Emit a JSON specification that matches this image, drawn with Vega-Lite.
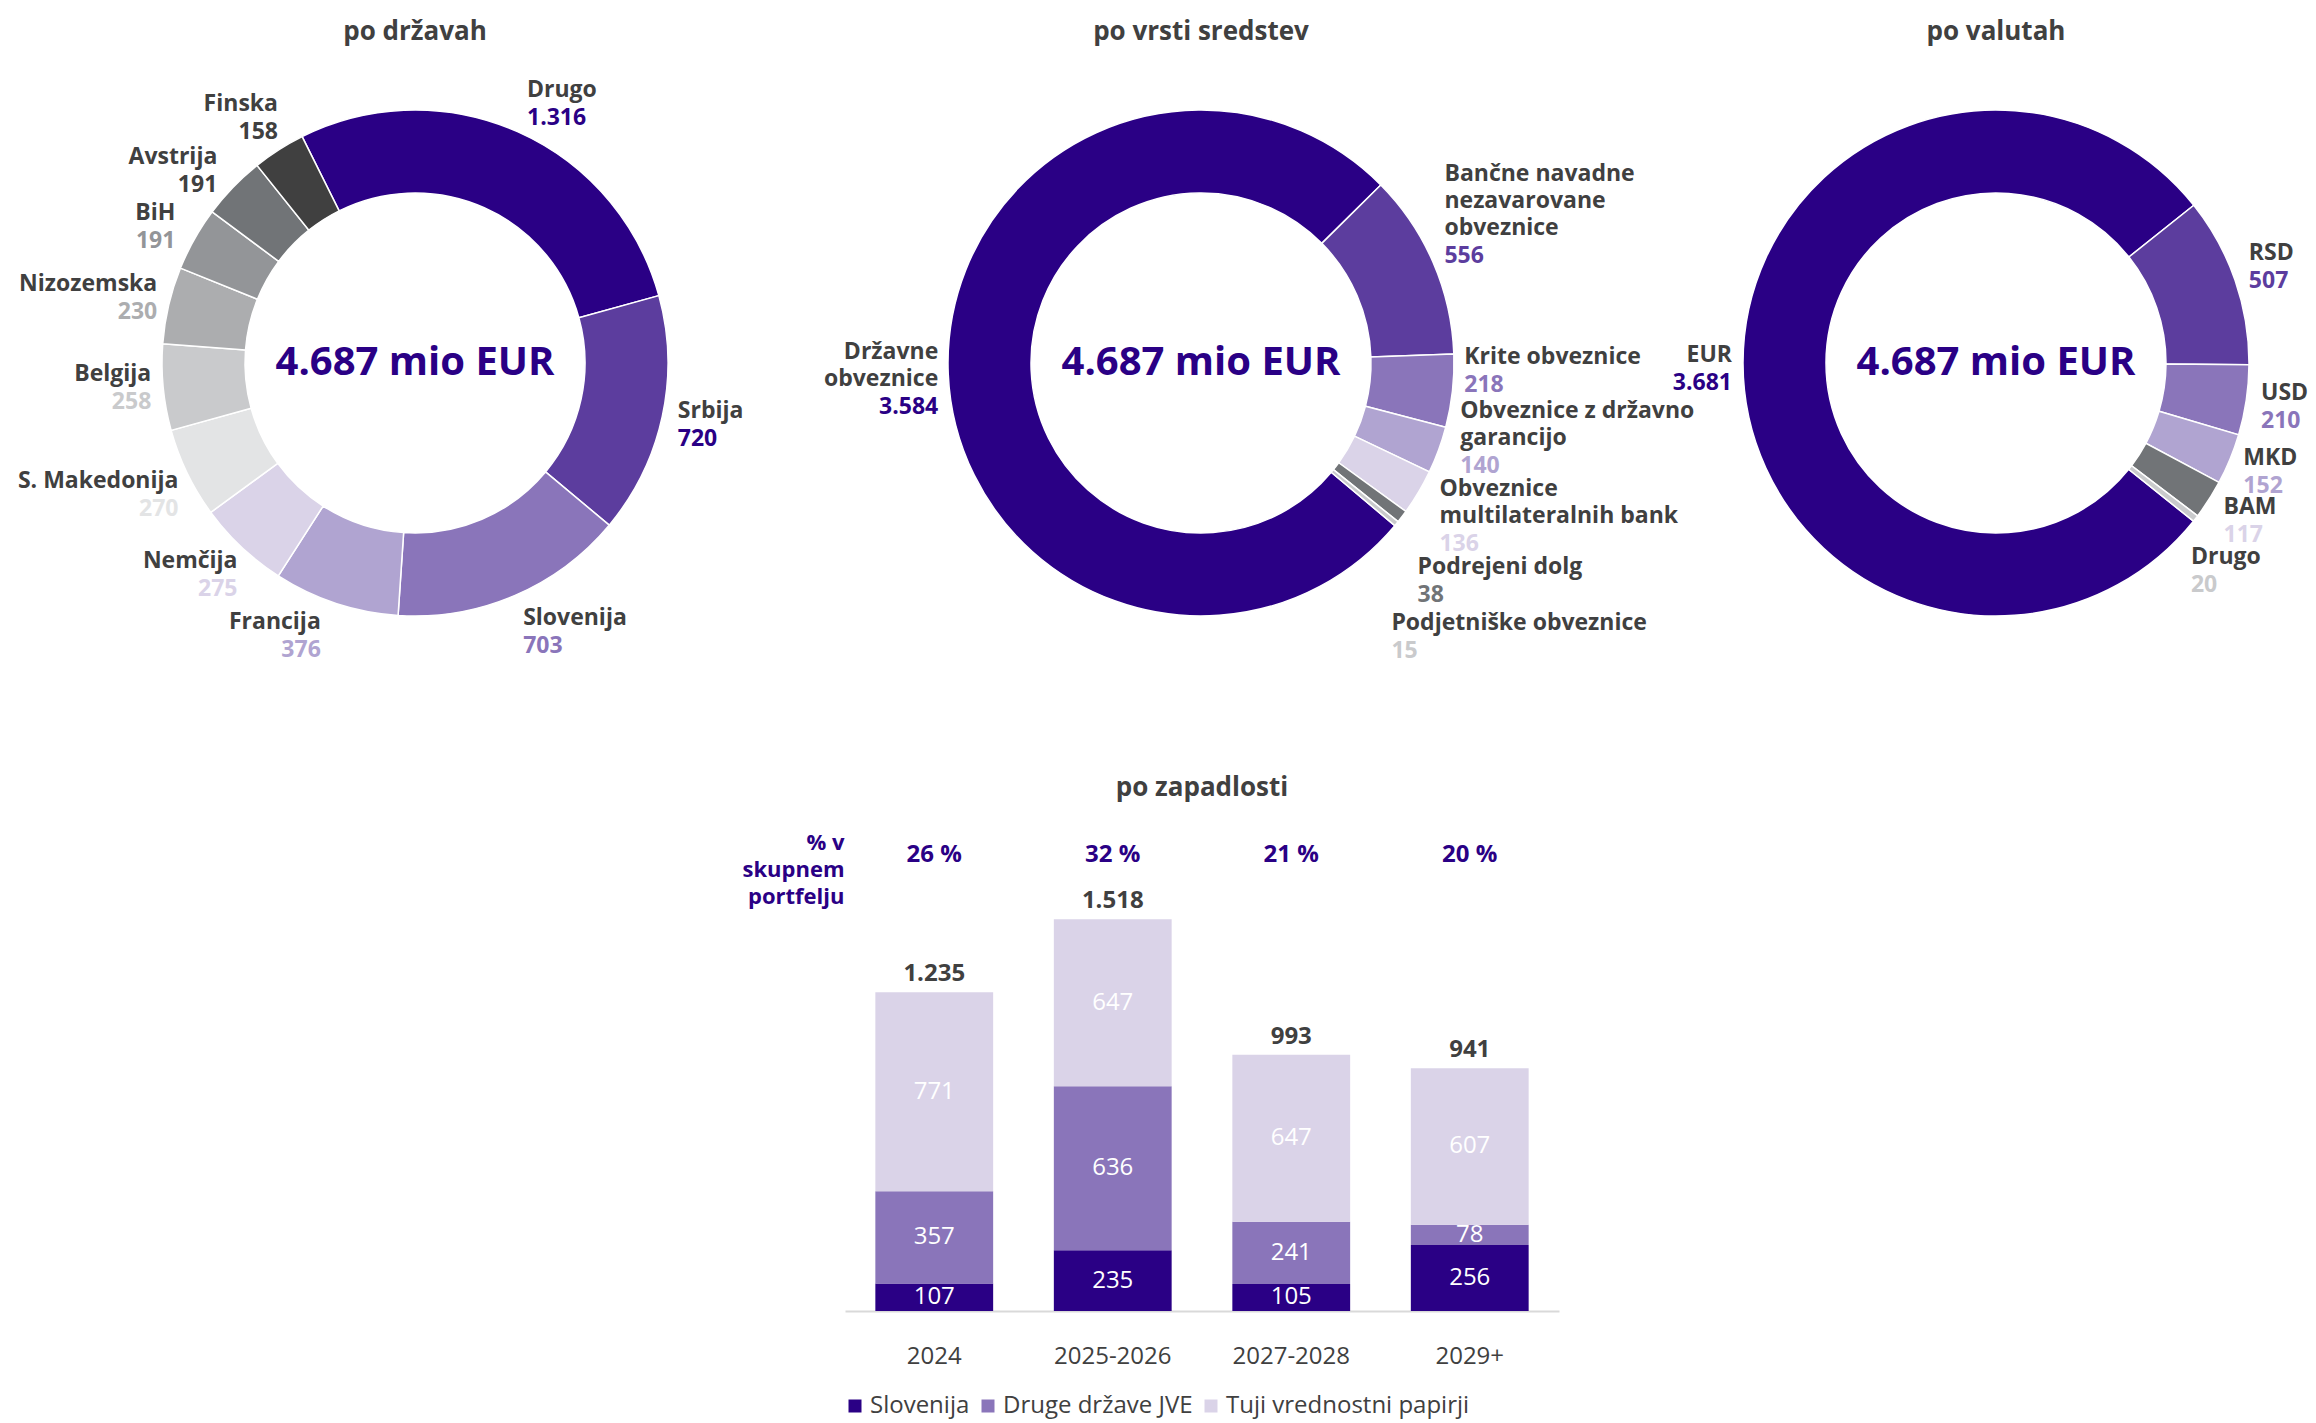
{
  "$schema": "https://vega.github.io/schema/vega-lite/v6.json",
  "padding": {"left": 17, "top": 19, "right": 0, "bottom": 10},
  "background": "#ffffff",
  "bounds": "flush",
  "spacing": 778,
  "resolve": {"scale": {"color": "independent", "fill": "independent"}},
  "config": {
    "view": {"stroke": null},
    "font": "Open Sans",
    "locale": {"number": {"decimal": ",", "thousands": ".", "grouping": [3], "currency": ["", " €"], "percent": " %"}},
    "title": {"font": "Open Sans", "fontSize": 26, "fontWeight": "bold", "color": "#404040", "anchor": "middle"}
  },
  "datasets": {
    "drz": [
      {"o": 1, "k": "Drugo", "lbl": "Drugo", "v": 1316},
      {"o": 2, "k": "Srbija", "lbl": "Srbija", "v": 720},
      {"o": 3, "k": "Slovenija", "lbl": "Slovenija", "v": 703},
      {"o": 4, "k": "Francija", "lbl": "Francija", "v": 376},
      {"o": 5, "k": "Nemčija", "lbl": "Nemčija", "v": 275},
      {"o": 6, "k": "S. Makedonija", "lbl": "S. Makedonija", "v": 270},
      {"o": 7, "k": "Belgija", "lbl": "Belgija", "v": 258},
      {"o": 8, "k": "Nizozemska", "lbl": "Nizozemska", "v": 230},
      {"o": 9, "k": "BiH", "lbl": "BiH", "v": 191},
      {"o": 10, "k": "Avstrija", "lbl": "Avstrija", "v": 191},
      {"o": 11, "k": "Finska", "lbl": "Finska", "v": 158}
    ],
    "vrs": [
      {"o": 1, "k": "Državne obveznice", "lbl": "Državne\nobveznice", "v": 3584},
      {"o": 2, "k": "Bančne navadne nezavarovane obveznice", "lbl": "Bančne navadne\nnezavarovane\nobveznice", "v": 556},
      {"o": 3, "k": "Krite obveznice", "lbl": "Krite obveznice", "v": 218},
      {"o": 4, "k": "Obveznice z državno garancijo", "lbl": "Obveznice z državno\ngarancijo", "v": 140},
      {"o": 5, "k": "Obveznice multilateralnih bank", "lbl": "Obveznice\nmultilateralnih bank", "v": 136},
      {"o": 6, "k": "Podrejeni dolg", "lbl": "Podrejeni dolg", "v": 38},
      {"o": 7, "k": "Podjetniške obveznice", "lbl": "Podjetniške obveznice", "v": 15}
    ],
    "val": [
      {"o": 1, "k": "EUR", "lbl": "EUR", "v": 3681},
      {"o": 2, "k": "RSD", "lbl": "RSD", "v": 507},
      {"o": 3, "k": "USD", "lbl": "USD", "v": 210},
      {"o": 4, "k": "MKD", "lbl": "MKD", "v": 152},
      {"o": 5, "k": "BAM", "lbl": "BAM", "v": 117},
      {"o": 6, "k": "Drugo", "lbl": "Drugo", "v": 20}
    ],
    "ctr": [{"c": "4.687 mio EUR"}],
    "zap": [
      {"g": "2024", "s": "Slovenija", "o": 1, "v": 107},
      {"g": "2024", "s": "Druge države JVE", "o": 2, "v": 357},
      {"g": "2024", "s": "Tuji vrednostni papirji", "o": 3, "v": 771},
      {"g": "2025-2026", "s": "Slovenija", "o": 1, "v": 235},
      {"g": "2025-2026", "s": "Druge države JVE", "o": 2, "v": 636},
      {"g": "2025-2026", "s": "Tuji vrednostni papirji", "o": 3, "v": 647},
      {"g": "2027-2028", "s": "Slovenija", "o": 1, "v": 105},
      {"g": "2027-2028", "s": "Druge države JVE", "o": 2, "v": 241},
      {"g": "2027-2028", "s": "Tuji vrednostni papirji", "o": 3, "v": 647},
      {"g": "2029+", "s": "Slovenija", "o": 1, "v": 256},
      {"g": "2029+", "s": "Druge države JVE", "o": 2, "v": 78},
      {"g": "2029+", "s": "Tuji vrednostni papirji", "o": 3, "v": 607}
    ],
    "zapt": [
      {"g": "2024", "t": 1235, "p": 0.26},
      {"g": "2025-2026", "t": 1518, "p": 0.32},
      {"g": "2027-2028", "t": 993, "p": 0.21},
      {"g": "2029+", "t": 941, "p": 0.20}
    ]
  },
  "vconcat": [
    {
      "hconcat": [
        {
          "width": 592, "height": 620,
          "title": {"text": "po državah", "offset": 8},
          "data": {"name": "drz"},
          "layer": [
            {"mark": {"type": "arc", "outerRadius": 253, "innerRadius": 170, "stroke": "#ffffff", "strokeWidth": 1.5},
             "encoding": {
               "theta": {"field": "v", "type": "quantitative", "stack": true, "scale": {"range": [-0.4625, 5.8207]}},
               "order": {"field": "o", "type": "quantitative"},
               "color": {"field": "k", "type": "nominal", "legend": null, "scale": {"domain": ["Drugo", "Srbija", "Slovenija", "Francija", "Nemčija", "S. Makedonija", "Belgija", "Nizozemska", "BiH", "Avstrija", "Finska"], "range": ["#2a0085", "#5c3d9e", "#8a75ba", "#b0a4d1", "#dad3e8", "#e3e4e5", "#c9cacc", "#acadaf", "#939598", "#717477", "#404040"]}}
             }},
            {"data": {"name": "ctr"}, "mark": {"type": "text", "fontSize": 40, "fontWeight": "bold", "color": "#2a0085", "baseline": "middle"}, "encoding": {"text": {"field": "c", "type": "nominal"}}},

            {"mark": {"type": "text", "radius": 275, "align": "left", "baseline": "bottom", "dx": 0, "dy": -10, "fontSize": 23, "fontWeight": "bold", "color": "#404040", "lineBreak": "\n", "lineHeight": 27},
             "encoding": {"theta": {"field": "v", "type": "quantitative", "stack": true}, "order": {"field": "o", "type": "quantitative"}, "text": {"condition": {"test": {"field": "k", "oneOf": ["Drugo"]}, "field": "lbl", "type": "nominal"}, "value": ""}}},
            {"mark": {"type": "text", "radius": 275, "align": "left", "baseline": "top", "dx": 0, "dy": -5, "fontSize": 23, "fontWeight": "bold"},
             "encoding": {"theta": {"field": "v", "type": "quantitative", "stack": true}, "order": {"field": "o", "type": "quantitative"}, "fill": {"field": "k", "type": "nominal", "legend": null, "scale": {"domain": ["Drugo", "Srbija", "Slovenija", "Francija", "Nemčija", "S. Makedonija", "Belgija", "Nizozemska", "BiH", "Avstrija", "Finska"], "range": ["#2a0085", "#2a0085", "#8a75ba", "#b0a4d1", "#dad3e8", "#e3e4e5", "#c9cacc", "#acadaf", "#939598", "#404040", "#404040"]}}, "text": {"condition": {"test": {"field": "k", "oneOf": ["Drugo"]}, "field": "v", "type": "quantitative", "format": ",d"}, "value": ""}}},

            {"mark": {"type": "text", "radius": 275, "align": "left", "baseline": "bottom", "dx": -6, "dy": 2, "fontSize": 23, "fontWeight": "bold", "color": "#404040", "lineBreak": "\n", "lineHeight": 27},
             "encoding": {"theta": {"field": "v", "type": "quantitative", "stack": true}, "order": {"field": "o", "type": "quantitative"}, "text": {"condition": {"test": {"field": "k", "oneOf": ["Srbija"]}, "field": "lbl", "type": "nominal"}, "value": ""}}},
            {"mark": {"type": "text", "radius": 275, "align": "left", "baseline": "top", "dx": -6, "dy": 7, "fontSize": 23, "fontWeight": "bold"},
             "encoding": {"theta": {"field": "v", "type": "quantitative", "stack": true}, "order": {"field": "o", "type": "quantitative"}, "fill": {"field": "k", "type": "nominal", "legend": null}, "text": {"condition": {"test": {"field": "k", "oneOf": ["Srbija"]}, "field": "v", "type": "quantitative", "format": ",d"}, "value": ""}}},

            {"mark": {"type": "text", "radius": 275, "align": "left", "baseline": "bottom", "dx": 0, "dy": 14, "fontSize": 23, "fontWeight": "bold", "color": "#404040", "lineBreak": "\n", "lineHeight": 27},
             "encoding": {"theta": {"field": "v", "type": "quantitative", "stack": true}, "order": {"field": "o", "type": "quantitative"}, "text": {"condition": {"test": {"field": "k", "oneOf": ["Slovenija"]}, "field": "lbl", "type": "nominal"}, "value": ""}}},
            {"mark": {"type": "text", "radius": 275, "align": "left", "baseline": "top", "dx": 0, "dy": 19, "fontSize": 23, "fontWeight": "bold"},
             "encoding": {"theta": {"field": "v", "type": "quantitative", "stack": true}, "order": {"field": "o", "type": "quantitative"}, "fill": {"field": "k", "type": "nominal", "legend": null}, "text": {"condition": {"test": {"field": "k", "oneOf": ["Slovenija"]}, "field": "v", "type": "quantitative", "format": ",d"}, "value": ""}}},

            {"mark": {"type": "text", "radius": 275, "align": "right", "baseline": "bottom", "dx": -8, "dy": 10, "fontSize": 23, "fontWeight": "bold", "color": "#404040", "lineBreak": "\n", "lineHeight": 27},
             "encoding": {"theta": {"field": "v", "type": "quantitative", "stack": true}, "order": {"field": "o", "type": "quantitative"}, "text": {"condition": {"test": {"field": "k", "oneOf": ["Francija"]}, "field": "lbl", "type": "nominal"}, "value": ""}}},
            {"mark": {"type": "text", "radius": 275, "align": "right", "baseline": "top", "dx": -8, "dy": 15, "fontSize": 23, "fontWeight": "bold"},
             "encoding": {"theta": {"field": "v", "type": "quantitative", "stack": true}, "order": {"field": "o", "type": "quantitative"}, "fill": {"field": "k", "type": "nominal", "legend": null}, "text": {"condition": {"test": {"field": "k", "oneOf": ["Francija"]}, "field": "v", "type": "quantitative", "format": ",d"}, "value": ""}}},

            {"mark": {"type": "text", "radius": 275, "align": "right", "baseline": "bottom", "dx": 11, "dy": 10, "fontSize": 23, "fontWeight": "bold", "color": "#404040", "lineBreak": "\n", "lineHeight": 27},
             "encoding": {"theta": {"field": "v", "type": "quantitative", "stack": true}, "order": {"field": "o", "type": "quantitative"}, "text": {"condition": {"test": {"field": "k", "oneOf": ["Nemčija", "S. Makedonija"]}, "field": "lbl", "type": "nominal"}, "value": ""}}},
            {"mark": {"type": "text", "radius": 275, "align": "right", "baseline": "top", "dx": 11, "dy": 15, "fontSize": 23, "fontWeight": "bold"},
             "encoding": {"theta": {"field": "v", "type": "quantitative", "stack": true}, "order": {"field": "o", "type": "quantitative"}, "fill": {"field": "k", "type": "nominal", "legend": null}, "text": {"condition": {"test": {"field": "k", "oneOf": ["Nemčija", "S. Makedonija"]}, "field": "v", "type": "quantitative", "format": ",d"}, "value": ""}}},

            {"mark": {"type": "text", "radius": 275, "align": "right", "baseline": "bottom", "dx": 10, "dy": -4, "fontSize": 23, "fontWeight": "bold", "color": "#404040", "lineBreak": "\n", "lineHeight": 27},
             "encoding": {"theta": {"field": "v", "type": "quantitative", "stack": true}, "order": {"field": "o", "type": "quantitative"}, "text": {"condition": {"test": {"field": "k", "oneOf": ["Belgija", "Nizozemska"]}, "field": "lbl", "type": "nominal"}, "value": ""}}},
            {"mark": {"type": "text", "radius": 275, "align": "right", "baseline": "top", "dx": 10, "dy": 1, "fontSize": 23, "fontWeight": "bold"},
             "encoding": {"theta": {"field": "v", "type": "quantitative", "stack": true}, "order": {"field": "o", "type": "quantitative"}, "fill": {"field": "k", "type": "nominal", "legend": null}, "text": {"condition": {"test": {"field": "k", "oneOf": ["Belgija", "Nizozemska"]}, "field": "v", "type": "quantitative", "format": ",d"}, "value": ""}}},

            {"mark": {"type": "text", "radius": 275, "align": "right", "baseline": "bottom", "dx": 0, "dy": -3, "fontSize": 23, "fontWeight": "bold", "color": "#404040", "lineBreak": "\n", "lineHeight": 27},
             "encoding": {"theta": {"field": "v", "type": "quantitative", "stack": true}, "order": {"field": "o", "type": "quantitative"}, "text": {"condition": {"test": {"field": "k", "oneOf": ["BiH", "Avstrija"]}, "field": "lbl", "type": "nominal"}, "value": ""}}},
            {"mark": {"type": "text", "radius": 275, "align": "right", "baseline": "top", "dx": 0, "dy": 2, "fontSize": 23, "fontWeight": "bold"},
             "encoding": {"theta": {"field": "v", "type": "quantitative", "stack": true}, "order": {"field": "o", "type": "quantitative"}, "fill": {"field": "k", "type": "nominal", "legend": null}, "text": {"condition": {"test": {"field": "k", "oneOf": ["BiH", "Avstrija"]}, "field": "v", "type": "quantitative", "format": ",d"}, "value": ""}}},

            {"mark": {"type": "text", "radius": 275, "align": "right", "baseline": "bottom", "dx": 11, "dy": -15, "fontSize": 23, "fontWeight": "bold", "color": "#404040", "lineBreak": "\n", "lineHeight": 27},
             "encoding": {"theta": {"field": "v", "type": "quantitative", "stack": true}, "order": {"field": "o", "type": "quantitative"}, "text": {"condition": {"test": {"field": "k", "oneOf": ["Finska"]}, "field": "lbl", "type": "nominal"}, "value": ""}}},
            {"mark": {"type": "text", "radius": 275, "align": "right", "baseline": "top", "dx": 11, "dy": -10, "fontSize": 23, "fontWeight": "bold"},
             "encoding": {"theta": {"field": "v", "type": "quantitative", "stack": true}, "order": {"field": "o", "type": "quantitative"}, "fill": {"field": "k", "type": "nominal", "legend": null}, "text": {"condition": {"test": {"field": "k", "oneOf": ["Finska"]}, "field": "v", "type": "quantitative", "format": ",d"}, "value": ""}}}
          ]
        },
        {
          "width": 980, "height": 620,
          "title": {"text": "po vrsti sredstev", "offset": 8},
          "data": {"name": "vrs"},
          "layer": [
            {"mark": {"type": "arc", "outerRadius": 253, "innerRadius": 170, "stroke": "#ffffff", "strokeWidth": 1.5},
             "encoding": {
               "theta": {"field": "v", "type": "quantitative", "stack": true, "scale": {"range": [2.2689, 8.5521]}},
               "order": {"field": "o", "type": "quantitative"},
               "color": {"field": "k", "type": "nominal", "legend": null, "scale": {"domain": ["Državne obveznice", "Bančne navadne nezavarovane obveznice", "Krite obveznice", "Obveznice z državno garancijo", "Obveznice multilateralnih bank", "Podrejeni dolg", "Podjetniške obveznice"], "range": ["#2a0085", "#5c3d9e", "#8a75ba", "#b0a4d1", "#dad3e8", "#717477", "#c9cacc"]}}
             }},
            {"data": {"name": "ctr"}, "mark": {"type": "text", "fontSize": 40, "fontWeight": "bold", "color": "#2a0085", "baseline": "middle"}, "encoding": {"text": {"field": "c", "type": "nominal"}}},

            {"mark": {"type": "text", "radius": 275, "align": "right", "baseline": "bottom", "dx": 12, "dy": -10, "fontSize": 23, "fontWeight": "bold", "color": "#404040", "lineBreak": "\n", "lineHeight": 27},
             "encoding": {"theta": {"field": "v", "type": "quantitative", "stack": true}, "order": {"field": "o", "type": "quantitative"}, "text": {"condition": {"test": {"field": "k", "oneOf": ["Državne obveznice"]}, "field": "lbl", "type": "nominal"}, "value": ""}}},
            {"mark": {"type": "text", "radius": 275, "align": "right", "baseline": "top", "dx": 12, "dy": 22, "fontSize": 23, "fontWeight": "bold"},
             "encoding": {"theta": {"field": "v", "type": "quantitative", "stack": true}, "order": {"field": "o", "type": "quantitative"}, "fill": {"field": "k", "type": "nominal", "legend": null, "scale": {"domain": ["Državne obveznice", "Bančne navadne nezavarovane obveznice", "Krite obveznice", "Obveznice z državno garancijo", "Obveznice multilateralnih bank", "Podrejeni dolg", "Podjetniške obveznice"], "range": ["#2a0085", "#5c3d9e", "#8a75ba", "#b0a4d1", "#dad3e8", "#717477", "#c9cacc"]}}, "text": {"condition": {"test": {"field": "k", "oneOf": ["Državne obveznice"]}, "field": "v", "type": "quantitative", "format": ",d"}, "value": ""}}},

            {"mark": {"type": "text", "radius": 275, "align": "left", "baseline": "bottom", "dx": -9, "dy": -68, "fontSize": 23, "fontWeight": "bold", "color": "#404040", "lineBreak": "\n", "lineHeight": 27},
             "encoding": {"theta": {"field": "v", "type": "quantitative", "stack": true}, "order": {"field": "o", "type": "quantitative"}, "text": {"condition": {"test": {"field": "k", "oneOf": ["Bančne navadne nezavarovane obveznice"]}, "field": "lbl", "type": "nominal"}, "value": ""}}},
            {"mark": {"type": "text", "radius": 275, "align": "left", "baseline": "top", "dx": -9, "dy": -9, "fontSize": 23, "fontWeight": "bold"},
             "encoding": {"theta": {"field": "v", "type": "quantitative", "stack": true}, "order": {"field": "o", "type": "quantitative"}, "fill": {"field": "k", "type": "nominal", "legend": null}, "text": {"condition": {"test": {"field": "k", "oneOf": ["Bančne navadne nezavarovane obveznice"]}, "field": "v", "type": "quantitative", "format": ",d"}, "value": ""}}},

            {"mark": {"type": "text", "radius": 275, "align": "left", "baseline": "bottom", "dx": -10, "dy": -24, "fontSize": 23, "fontWeight": "bold", "color": "#404040", "lineBreak": "\n", "lineHeight": 27},
             "encoding": {"theta": {"field": "v", "type": "quantitative", "stack": true}, "order": {"field": "o", "type": "quantitative"}, "text": {"condition": {"test": {"field": "k", "oneOf": ["Krite obveznice"]}, "field": "lbl", "type": "nominal"}, "value": ""}}},
            {"mark": {"type": "text", "radius": 275, "align": "left", "baseline": "top", "dx": -10, "dy": -19, "fontSize": 23, "fontWeight": "bold"},
             "encoding": {"theta": {"field": "v", "type": "quantitative", "stack": true}, "order": {"field": "o", "type": "quantitative"}, "fill": {"field": "k", "type": "nominal", "legend": null}, "text": {"condition": {"test": {"field": "k", "oneOf": ["Krite obveznice"]}, "field": "v", "type": "quantitative", "format": ",d"}, "value": ""}}},

            {"mark": {"type": "text", "radius": 275, "align": "left", "baseline": "bottom", "dx": 1, "dy": -35, "fontSize": 23, "fontWeight": "bold", "color": "#404040", "lineBreak": "\n", "lineHeight": 27},
             "encoding": {"theta": {"field": "v", "type": "quantitative", "stack": true}, "order": {"field": "o", "type": "quantitative"}, "text": {"condition": {"test": {"field": "k", "oneOf": ["Obveznice z državno garancijo"]}, "field": "lbl", "type": "nominal"}, "value": ""}}},
            {"mark": {"type": "text", "radius": 275, "align": "left", "baseline": "top", "dx": 1, "dy": -3, "fontSize": 23, "fontWeight": "bold"},
             "encoding": {"theta": {"field": "v", "type": "quantitative", "stack": true}, "order": {"field": "o", "type": "quantitative"}, "fill": {"field": "k", "type": "nominal", "legend": null}, "text": {"condition": {"test": {"field": "k", "oneOf": ["Obveznice z državno garancijo"]}, "field": "v", "type": "quantitative", "format": ",d"}, "value": ""}}},

            {"mark": {"type": "text", "radius": 275, "align": "left", "baseline": "bottom", "dx": 2, "dy": -2, "fontSize": 23, "fontWeight": "bold", "color": "#404040", "lineBreak": "\n", "lineHeight": 27},
             "encoding": {"theta": {"field": "v", "type": "quantitative", "stack": true}, "order": {"field": "o", "type": "quantitative"}, "text": {"condition": {"test": {"field": "k", "oneOf": ["Obveznice multilateralnih bank"]}, "field": "lbl", "type": "nominal"}, "value": ""}}},
            {"mark": {"type": "text", "radius": 275, "align": "left", "baseline": "top", "dx": 2, "dy": 30, "fontSize": 23, "fontWeight": "bold"},
             "encoding": {"theta": {"field": "v", "type": "quantitative", "stack": true}, "order": {"field": "o", "type": "quantitative"}, "fill": {"field": "k", "type": "nominal", "legend": null}, "text": {"condition": {"test": {"field": "k", "oneOf": ["Obveznice multilateralnih bank"]}, "field": "v", "type": "quantitative", "format": ",d"}, "value": ""}}},

            {"mark": {"type": "text", "radius": 275, "align": "left", "baseline": "bottom", "dx": -2, "dy": 49, "fontSize": 23, "fontWeight": "bold", "color": "#404040", "lineBreak": "\n", "lineHeight": 27},
             "encoding": {"theta": {"field": "v", "type": "quantitative", "stack": true}, "order": {"field": "o", "type": "quantitative"}, "text": {"condition": {"test": {"field": "k", "oneOf": ["Podrejeni dolg"]}, "field": "lbl", "type": "nominal"}, "value": ""}}},
            {"mark": {"type": "text", "radius": 275, "align": "left", "baseline": "top", "dx": -2, "dy": 54, "fontSize": 23, "fontWeight": "bold"},
             "encoding": {"theta": {"field": "v", "type": "quantitative", "stack": true}, "order": {"field": "o", "type": "quantitative"}, "fill": {"field": "k", "type": "nominal", "legend": null}, "text": {"condition": {"test": {"field": "k", "oneOf": ["Podrejeni dolg"]}, "field": "v", "type": "quantitative", "format": ",d"}, "value": ""}}},

            {"mark": {"type": "text", "radius": 275, "align": "left", "baseline": "bottom", "dx": -22, "dy": 97, "fontSize": 23, "fontWeight": "bold", "color": "#404040", "lineBreak": "\n", "lineHeight": 27},
             "encoding": {"theta": {"field": "v", "type": "quantitative", "stack": true}, "order": {"field": "o", "type": "quantitative"}, "text": {"condition": {"test": {"field": "k", "oneOf": ["Podjetniške obveznice"]}, "field": "lbl", "type": "nominal"}, "value": ""}}},
            {"mark": {"type": "text", "radius": 275, "align": "left", "baseline": "top", "dx": -22, "dy": 102, "fontSize": 23, "fontWeight": "bold"},
             "encoding": {"theta": {"field": "v", "type": "quantitative", "stack": true}, "order": {"field": "o", "type": "quantitative"}, "fill": {"field": "k", "type": "nominal", "legend": null}, "text": {"condition": {"test": {"field": "k", "oneOf": ["Podjetniške obveznice"]}, "field": "v", "type": "quantitative", "format": ",d"}, "value": ""}}}
          ]
        },
        {
          "width": 610, "height": 620,
          "title": {"text": "po valutah", "offset": 8},
          "data": {"name": "val"},
          "layer": [
            {"mark": {"type": "arc", "outerRadius": 253, "innerRadius": 170, "stroke": "#ffffff", "strokeWidth": 1.5},
             "encoding": {
               "theta": {"field": "v", "type": "quantitative", "stack": true, "scale": {"range": [2.2462, 8.5294]}},
               "order": {"field": "o", "type": "quantitative"},
               "color": {"field": "k", "type": "nominal", "legend": null, "scale": {"domain": ["EUR", "RSD", "USD", "MKD", "BAM", "Drugo"], "range": ["#2a0085", "#5c3d9e", "#8a75ba", "#b0a4d1", "#717477", "#c9cacc"]}}
             }},
            {"data": {"name": "ctr"}, "mark": {"type": "text", "fontSize": 40, "fontWeight": "bold", "color": "#2a0085", "baseline": "middle"}, "encoding": {"text": {"field": "c", "type": "nominal"}}},

            {"mark": {"type": "text", "radius": 275, "align": "right", "baseline": "bottom", "dx": 11, "dy": 4, "fontSize": 23, "fontWeight": "bold", "color": "#404040", "lineBreak": "\n", "lineHeight": 27},
             "encoding": {"theta": {"field": "v", "type": "quantitative", "stack": true}, "order": {"field": "o", "type": "quantitative"}, "text": {"condition": {"test": {"field": "k", "oneOf": ["EUR"]}, "field": "lbl", "type": "nominal"}, "value": ""}}},
            {"mark": {"type": "text", "radius": 275, "align": "right", "baseline": "top", "dx": 11, "dy": 9, "fontSize": 23, "fontWeight": "bold"},
             "encoding": {"theta": {"field": "v", "type": "quantitative", "stack": true}, "order": {"field": "o", "type": "quantitative"}, "fill": {"field": "k", "type": "nominal", "legend": null, "scale": {"domain": ["EUR", "RSD", "USD", "MKD", "BAM", "Drugo"], "range": ["#2a0085", "#5c3d9e", "#8a75ba", "#b0a4d1", "#dad3e8", "#c9cacc"]}}, "text": {"condition": {"test": {"field": "k", "oneOf": ["EUR"]}, "field": "v", "type": "quantitative", "format": ",d"}, "value": ""}}},

            {"mark": {"type": "text", "radius": 275, "align": "left", "baseline": "bottom", "dx": -7, "dy": -8, "fontSize": 23, "fontWeight": "bold", "color": "#404040", "lineBreak": "\n", "lineHeight": 27},
             "encoding": {"theta": {"field": "v", "type": "quantitative", "stack": true}, "order": {"field": "o", "type": "quantitative"}, "text": {"condition": {"test": {"field": "k", "oneOf": ["RSD"]}, "field": "lbl", "type": "nominal"}, "value": ""}}},
            {"mark": {"type": "text", "radius": 275, "align": "left", "baseline": "top", "dx": -7, "dy": -3, "fontSize": 23, "fontWeight": "bold"},
             "encoding": {"theta": {"field": "v", "type": "quantitative", "stack": true}, "order": {"field": "o", "type": "quantitative"}, "fill": {"field": "k", "type": "nominal", "legend": null}, "text": {"condition": {"test": {"field": "k", "oneOf": ["RSD"]}, "field": "v", "type": "quantitative", "format": ",d"}, "value": ""}}},

            {"mark": {"type": "text", "radius": 275, "align": "left", "baseline": "bottom", "dx": -7, "dy": 2, "fontSize": 23, "fontWeight": "bold", "color": "#404040", "lineBreak": "\n", "lineHeight": 27},
             "encoding": {"theta": {"field": "v", "type": "quantitative", "stack": true}, "order": {"field": "o", "type": "quantitative"}, "text": {"condition": {"test": {"field": "k", "oneOf": ["USD", "MKD"]}, "field": "lbl", "type": "nominal"}, "value": ""}}},
            {"mark": {"type": "text", "radius": 275, "align": "left", "baseline": "top", "dx": -7, "dy": 7, "fontSize": 23, "fontWeight": "bold"},
             "encoding": {"theta": {"field": "v", "type": "quantitative", "stack": true}, "order": {"field": "o", "type": "quantitative"}, "fill": {"field": "k", "type": "nominal", "legend": null}, "text": {"condition": {"test": {"field": "k", "oneOf": ["USD", "MKD"]}, "field": "v", "type": "quantitative", "format": ",d"}, "value": ""}}},

            {"mark": {"type": "text", "radius": 275, "align": "left", "baseline": "bottom", "dx": -4, "dy": 8, "fontSize": 23, "fontWeight": "bold", "color": "#404040", "lineBreak": "\n", "lineHeight": 27},
             "encoding": {"theta": {"field": "v", "type": "quantitative", "stack": true}, "order": {"field": "o", "type": "quantitative"}, "text": {"condition": {"test": {"field": "k", "oneOf": ["BAM"]}, "field": "lbl", "type": "nominal"}, "value": ""}}},
            {"mark": {"type": "text", "radius": 275, "align": "left", "baseline": "top", "dx": -4, "dy": 13, "fontSize": 23, "fontWeight": "bold"},
             "encoding": {"theta": {"field": "v", "type": "quantitative", "stack": true}, "order": {"field": "o", "type": "quantitative"}, "fill": {"field": "k", "type": "nominal", "legend": null}, "text": {"condition": {"test": {"field": "k", "oneOf": ["BAM"]}, "field": "v", "type": "quantitative", "format": ",d"}, "value": ""}}},

            {"mark": {"type": "text", "radius": 275, "align": "left", "baseline": "bottom", "dx": -22, "dy": 37, "fontSize": 23, "fontWeight": "bold", "color": "#404040", "lineBreak": "\n", "lineHeight": 27},
             "encoding": {"theta": {"field": "v", "type": "quantitative", "stack": true}, "order": {"field": "o", "type": "quantitative"}, "text": {"condition": {"test": {"field": "k", "oneOf": ["Drugo"]}, "field": "lbl", "type": "nominal"}, "value": ""}}},
            {"mark": {"type": "text", "radius": 275, "align": "left", "baseline": "top", "dx": -22, "dy": 42, "fontSize": 23, "fontWeight": "bold"},
             "encoding": {"theta": {"field": "v", "type": "quantitative", "stack": true}, "order": {"field": "o", "type": "quantitative"}, "fill": {"field": "k", "type": "nominal", "legend": null}, "text": {"condition": {"test": {"field": "k", "oneOf": ["Drugo"]}, "field": "v", "type": "quantitative", "format": ",d"}, "value": ""}}}
          ]
        }
      ],
      "spacing": 0,
      "bounds": "flush",
      "resolve": {"scale": {"color": "independent", "fill": "independent"}}
    },
    {
      "hconcat": [
        {"width": 726, "height": 480, "data": {"values": []}, "mark": "point"},
        {
          "width": 714, "height": 480,
          "title": {"text": "po zapadlosti", "offset": 30},
          "encoding": {
            "x": {"field": "g", "type": "ordinal", "sort": ["2024", "2025-2026", "2027-2028", "2029+"],
                  "scale": {"paddingInner": 0.34, "paddingOuter": 0.17},
                  "axis": {"title": null, "labelAngle": 0, "ticks": false, "domainColor": "#d9d9d9", "domainWidth": 2, "labelFontSize": 24, "labelColor": "#404040", "labelPadding": 33, "labelFont": "Open Sans"}}
          },
          "layer": [
            {"data": {"name": "zap"}, "mark": {"type": "bar"},
             "encoding": {
               "y": {"field": "v", "type": "quantitative", "stack": "zero", "scale": {"domain": [0, 1860], "nice": false, "zero": true},
                     "axis": {"title": ["% v", "skupnem", "portfelju"], "titleAngle": 0, "titleAlign": "right", "titleBaseline": "top", "titleX": -1, "titleY": 1, "titleFontSize": 22, "titleFont": "Open Sans", "titleFontWeight": "bold", "titleColor": "#2a0085", "titleLineHeight": 27, "labels": false, "ticks": false, "domain": false, "grid": false}},
               "order": {"field": "o", "type": "quantitative"},
               "color": {"field": "s", "type": "nominal",
                         "scale": {"domain": ["Slovenija", "Druge države JVE", "Tuji vrednostni papirji"], "range": ["#2a0085", "#8a75ba", "#dad3e8"]},
                         "legend": {"title": null, "orient": "none", "legendX": -2, "legendY": 563, "padding": 0, "direction": "horizontal", "symbolType": "square", "symbolSize": 169, "symbolStrokeWidth": 0, "labelFontSize": 24, "labelFont": "Open Sans", "labelColor": "#404040", "labelOffset": 3, "labelLimit": 500, "columnPadding": 6}}
             }},
            {"data": {"name": "zap"}, "mark": {"type": "text", "color": "#ffffff", "fontSize": 24, "baseline": "middle"},
             "encoding": {
               "y": {"field": "v", "type": "quantitative", "stack": "zero", "bandPosition": 0.5},
               "detail": {"field": "s", "type": "nominal"},
               "order": {"field": "o", "type": "quantitative"},
               "text": {"field": "v", "type": "quantitative", "format": ",d"}
             }},
            {"data": {"name": "zapt"}, "mark": {"type": "text", "color": "#404040", "fontSize": 24, "fontWeight": "bold", "baseline": "bottom", "dy": -6},
             "encoding": {
               "y": {"field": "t", "type": "quantitative"},
               "text": {"field": "t", "type": "quantitative", "format": ",d"}
             }},
            {"data": {"name": "zapt"}, "mark": {"type": "text", "color": "#2a0085", "fontSize": 24, "fontWeight": "bold", "baseline": "middle"},
             "encoding": {
               "y": {"datum": 1767},
               "text": {"field": "p", "type": "quantitative", "format": ".0%"}
             }}
          ]
        }
      ],
      "spacing": 0,
      "bounds": "flush",
      "resolve": {"scale": {"color": "independent", "fill": "independent"}}
    }
  ]
}
